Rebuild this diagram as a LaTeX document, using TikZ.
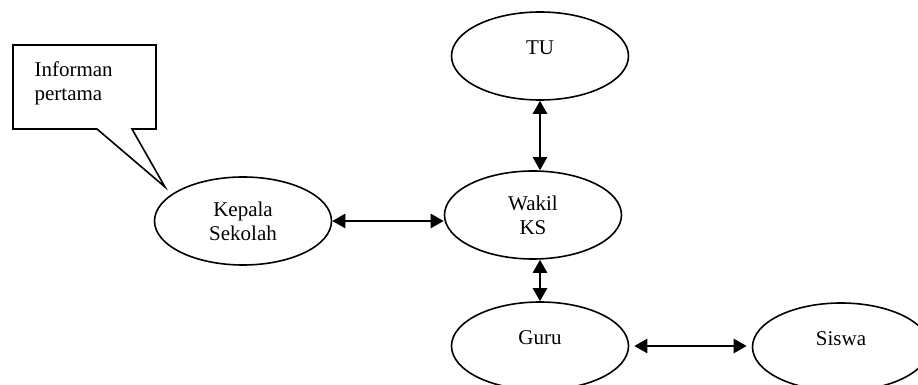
\documentclass[tikz,border=0pt]{standalone}
\usepackage{fontspec}
\setmainfont{Liberation Serif}
\usetikzlibrary{shapes,arrows.meta}

\begin{document}
\begin{tikzpicture}[x = 0.5pt, y = -0.5pt, semithick, font = \fontsize{10.5}{12}\selectfont,
  person/.style = {draw, ellipse, line width = 0.8pt, minimum width = 88.5pt, minimum height = 44pt, inner sep = 0pt, align = center},
  oneline/.style = {text depth = 8pt},
  link/.style = {{Triangle[length = 6.5pt, width = 7pt]}-{Triangle[length = 6.5pt, width = 7pt]}, line width = 1.3pt}]
\useasboundingbox (0,0) rectangle (918,385);

\node[person, oneline] (tu) at (540,56) {TU};
\node[person] (wakil) at (533,215) {Wakil\\KS};
\node[person] (kepala) at (243,221) {Kepala\\Sekolah};
\node[person, oneline] (guru) at (540,346) {Guru};
\node[person, oneline] (siswa) at (841,347) {Siswa};

% callout
\coordinate (tip) at (165,187);
\draw[line width = 0.8pt] (13,45) -- (156,45) -- (156,129) -- (132,129) -- (tip) -- (97,129) -- (13,129) -- cycle;
\node[anchor = north west, align = left, inner sep = 0pt] (informan) at (34,61) {Informan\\pertama};

\draw[link] (kepala.east) -- (kepala.east -| wakil.west);
\draw[link] (tu.south) -- (tu.south |- wakil.north);
\draw[link] (guru.north |- wakil.south) -- (guru.north);
\draw[link, shorten <= 2.5pt, shorten >= 2.5pt] (guru.east) -- (guru.east -| siswa.west);
\end{tikzpicture}
\end{document}
